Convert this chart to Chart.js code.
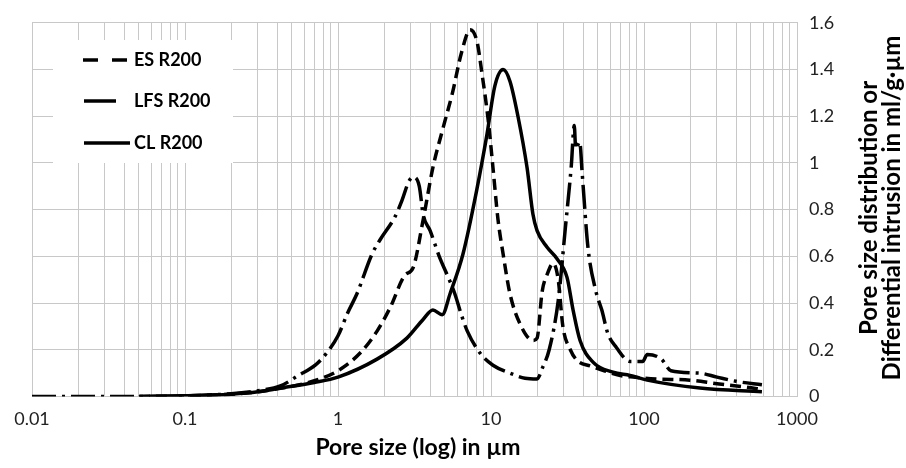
<!DOCTYPE html>
<html>
<head>
<meta charset="utf-8">
<script src="https://cdn.jsdelivr.net/npm/chart.js@4"></script>
<style>
  body { margin: 0; background: #fff; }
</style>
</head>
<body>
<canvas id="poreChart" width="906" height="468"></canvas>
<script>
// Series names
const seriesNames = ['ES R200', 'LFS R200', 'CL R200'];

// ES R200 (dashed)
const esSize  = [0.05, 0.1, 0.2, 0.3, 0.42, 0.6, 0.8, 1.0, 1.39, 1.8, 2.19, 2.74, 3.09, 3.61, 4.17, 4.86, 5.6, 6.4, 7.3, 8.1, 8.7, 9.6, 10.3, 11.1, 12, 13.3, 15.5, 18.8, 20, 21.6, 23.2, 25.5, 27.5, 29.5, 33, 36.5, 45, 55, 70, 85, 120, 200, 300, 470, 590];
const esValue = [0, 0.003, 0.01, 0.02, 0.035, 0.055, 0.08, 0.11, 0.185, 0.28, 0.38, 0.52, 0.55, 0.76, 0.98, 1.15, 1.3, 1.47, 1.57, 1.52, 1.39, 1.18, 0.98, 0.76, 0.61, 0.44, 0.31, 0.24, 0.25, 0.45, 0.52, 0.57, 0.5, 0.3, 0.2, 0.155, 0.13, 0.11, 0.09, 0.083, 0.075, 0.07, 0.055, 0.04, 0.03];

// LFS R200 (dash-dot)
const lfsSize  = [0.01, 0.05, 0.1, 0.2, 0.3, 0.42, 0.55, 0.71, 0.84, 1.0, 1.16, 1.33, 1.67, 1.88, 2.36, 2.62, 2.9, 3.1, 3.4, 3.6, 4.0, 4.65, 5.1, 5.8, 6.4, 7.0, 8.5, 10.3, 13.3, 16.7, 20, 21.8, 24, 27.5, 30.6, 33.5, 35, 35.8, 38, 39.5, 43, 48.5, 53, 58, 66, 81, 98, 105, 130, 150, 230, 300, 400, 590];
const lfsValue = [0, 0, 0.003, 0.012, 0.025, 0.045, 0.09, 0.134, 0.185, 0.26, 0.36, 0.44, 0.61, 0.67, 0.77, 0.84, 0.92, 0.94, 0.9, 0.78, 0.71, 0.59, 0.53, 0.44, 0.35, 0.28, 0.185, 0.134, 0.1, 0.078, 0.075, 0.126, 0.2, 0.41, 0.72, 0.99, 1.16, 1.06, 1.09, 0.95, 0.64, 0.45, 0.37, 0.27, 0.21, 0.15, 0.15, 0.18, 0.16, 0.11, 0.1, 0.083, 0.065, 0.05];

// CL R200 (solid)
const clSize  = [0.05, 0.1, 0.2, 0.3, 0.42, 0.7, 1.0, 1.8, 2.82, 3.6, 4.17, 4.8, 5.4, 6.56, 8.1, 9.4, 10.6, 12, 13.3, 15, 17.2, 18.8, 20, 23.2, 27, 31.4, 34.4, 38.2, 46.4, 62.7, 81, 105, 232, 590];
const clValue = [0, 0.003, 0.01, 0.02, 0.036, 0.06, 0.083, 0.16, 0.25, 0.33, 0.37, 0.35, 0.44, 0.61, 0.89, 1.12, 1.33, 1.4, 1.35, 1.2, 0.98, 0.78, 0.71, 0.64, 0.59, 0.51, 0.37, 0.24, 0.147, 0.104, 0.09, 0.07, 0.036, 0.02];

// Axis ticks
const xDecades = [0.01, 0.1, 1, 10, 100, 1000];
const xTickLabels = ['0.01', '0.1', '1', '10', '100', '1000'];
const yTicks = [0, 0.2, 0.4, 0.6, 0.8, 1, 1.2, 1.4, 1.6];

const xTitle = 'Pore size (log) in µm';
const yTitle = ['Pore size distribution or', 'Differential intrusion in ml/g·µm'];

const FONT = 'Lato, "Open Sans", sans-serif';
const GRID = '#c8c8c8';

const toPoints = (xs, ys) => xs.map((x, i) => ({ x: x, y: ys[i] }));

// minor + major tick positions for the log axis
const xGridValues = [];
xDecades.forEach((d, i) => {
    if (i === xDecades.length - 1) { xGridValues.push(d); return; }
    for (let k = 1; k <= 9; k++) xGridValues.push(+(d * k).toPrecision(3));
});

const legendStyles = [
    { dash: [15, 14], from: 83, to: 128 },
    { dash: [], from: 84, to: 116 },
    { dash: [], from: 84, to: 130 }
];

const customDraw = {
    id: 'customDraw',
    beforeDatasetsDraw(chart) {
        const ctx = chart.ctx;
        ctx.save();
        // legend box (covers the grid)
        ctx.fillStyle = '#fff';
        ctx.fillRect(53, 40, 180, 123);
        const rows = [60, 101, 143];
        seriesNames.forEach((name, i) => {
            const st = legendStyles[i];
            ctx.beginPath();
            ctx.setLineDash(st.dash);
            ctx.lineWidth = 3.5;
            ctx.strokeStyle = '#000';
            ctx.lineCap = 'butt';
            ctx.moveTo(st.from, rows[i]);
            ctx.lineTo(st.to, rows[i]);
            ctx.stroke();
            ctx.setLineDash([]);
            ctx.fillStyle = '#000';
            ctx.font = 'bold 18px ' + FONT;
            ctx.textBaseline = 'middle';
            ctx.textAlign = 'left';
            ctx.fillText(name, 134, rows[i]);
        });
        ctx.restore();
    },
    afterDraw(chart) {
        const ctx = chart.ctx;
        ctx.save();
        ctx.fillStyle = '#000';
        ctx.font = 'bold 23px ' + FONT;
        ctx.textAlign = 'center';
        ctx.textBaseline = 'middle';
        ctx.fillText(xTitle, 418, 448);
        // right axis title, reading bottom to top
        ctx.font = 'bold 24px ' + FONT;
        ctx.textBaseline = 'alphabetic';
        ctx.translate(0, 208);
        ctx.rotate(-Math.PI / 2);
        ctx.fillText(yTitle[0], 0, 877);
        ctx.fillText(yTitle[1], 0, 900);
        ctx.restore();
    }
};

const lineStyle = (dash) => ({
    borderColor: '#000',
    borderWidth: 3.5,
    borderDash: dash,
    borderCapStyle: 'butt',
    pointRadius: 0,
    fill: false,
    cubicInterpolationMode: 'monotone'
});

new Chart(document.getElementById('poreChart').getContext('2d'), {
    type: 'line',
    data: {
        datasets: [
            Object.assign({ label: seriesNames[0], data: toPoints(esSize, esValue) }, lineStyle([11, 6])),
            Object.assign({ label: seriesNames[1], data: toPoints(lfsSize, lfsValue) }, lineStyle([24, 6, 3, 6])),
            Object.assign({ label: seriesNames[2], data: toPoints(clSize, clValue) }, lineStyle([]))
        ]
    },
    options: {
        responsive: false,
        animation: false,
        devicePixelRatio: 1,
        layout: { padding: { left: 32, top: 20, right: 0, bottom: 0 } },
        plugins: { legend: { display: false }, tooltip: { enabled: false } },
        scales: {
            x: {
                type: 'logarithmic',
                min: 0.01,
                max: 1000,
                afterBuildTicks: s => { s.ticks = xGridValues.map(v => ({ value: v })); },
                afterFit: s => { s.height = 71.5; },
                grid: { color: GRID, lineWidth: 1, drawTicks: false },
                border: { color: GRID },
                ticks: {
                    autoSkip: false,
                    maxRotation: 0,
                    padding: 12,
                    color: '#222',
                    font: { family: FONT, size: 18 },
                    callback: (v) => {
                        const i = xDecades.findIndex(d => Math.abs(d - v) / d < 1e-6);
                        return i >= 0 ? xTickLabels[i] : '';
                    }
                }
            },
            y: {
                position: 'right',
                min: 0,
                max: 1.6,
                afterBuildTicks: s => { s.ticks = yTicks.map(v => ({ value: v })); },
                afterFit: s => { s.width = 109; },
                grid: { color: GRID, lineWidth: 1, drawTicks: false },
                border: { color: GRID },
                ticks: {
                    padding: 12,
                    color: '#222',
                    font: { family: FONT, size: 18 },
                    callback: v => String(Number(v.toFixed(1)))
                }
            }
        }
    },
    plugins: [customDraw]
});
</script>
</body>
</html>
